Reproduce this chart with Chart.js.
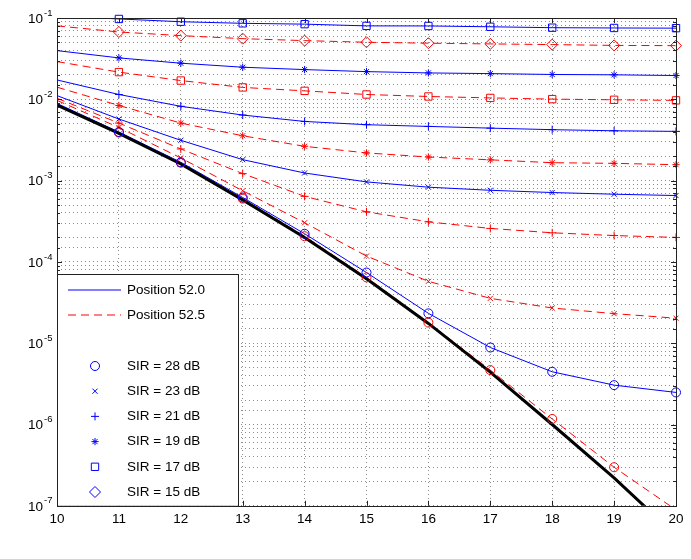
<!DOCTYPE html>
<html>
<head>
<meta charset="utf-8">
<title>BER vs SNR</title>
<script src="https://cdn.jsdelivr.net/npm/chart.js@4.4.0/dist/chart.umd.min.js"></script>
<style>
  html, body { margin: 0; padding: 0; background: #fff; }
  canvas { display: block; }
</style>
</head>
<body>
<canvas id="berChart" width="691" height="559"></canvas>
<script>
// --- DATOS ---

// Eje X (SNR)
const xValues = [10, 11, 12, 13, 14, 15, 16, 17, 18, 19, 20];

// Position 52.0 (azul, línea continua)
const pos520_sir28 = [0.0089, 0.00396, 0.00168, 0.00062, 0.000222, 7.4e-5, 2.33e-5, 8.85e-6, 4.45e-6, 3.05e-6, 2.48e-6];
const pos520_sir23 = [0.0111, 0.00572, 0.00313, 0.00181, 0.00124, 0.000964, 0.00083, 0.00076, 0.000713, 0.00068, 0.000655];
const pos520_sir21 = [0.0173, 0.01146, 0.0082, 0.0064, 0.00534, 0.00487, 0.00464, 0.00442, 0.00423, 0.0041, 0.00403];
const pos520_sir19 = [0.0397, 0.0323, 0.0278, 0.0248, 0.0232, 0.0219, 0.0211, 0.0207, 0.0202, 0.0200, 0.0196];
const pos520_sir17 = [0.106, 0.0973, 0.090, 0.086, 0.084, 0.080, 0.0798, 0.078, 0.076, 0.0754, 0.075];

// Position 52.5 (rojo, línea discontinua)
const pos525_sir28 = [0.0087, 0.0039, 0.00166, 0.0006, 0.000207, 6.45e-5, 1.79e-5, 4.67e-6, 1.17e-6, 2.98e-7, 8.9e-8];
const pos525_sir23 = [0.0097, 0.0045, 0.0019, 0.00075, 0.000303, 0.000118, 5.77e-5, 3.56e-5, 2.71e-5, 2.31e-5, 2.03e-5];
const pos525_sir21 = [0.0103, 0.0051, 0.00245, 0.00122, 0.00064, 0.000413, 0.000311, 0.000258, 0.000228, 0.000211, 0.0002];
const pos525_sir19 = [0.0141, 0.0084, 0.0051, 0.00356, 0.00264, 0.00219, 0.00195, 0.0018, 0.00166, 0.00163, 0.00157];
const pos525_sir17 = [0.0291, 0.0216, 0.017, 0.014, 0.0127, 0.01146, 0.01083, 0.0104, 0.01005, 0.00986, 0.0097];
const pos525_sir15 = [0.080, 0.0673, 0.0607, 0.0557, 0.0527, 0.0503, 0.049, 0.048, 0.0471, 0.046, 0.0457];

// Curva de referencia (negra, gruesa)
const reference = [0.0085, 0.0038, 0.0016, 0.00058, 0.0002, 6.2e-5, 1.75e-5, 4.4e-6, 1.0e-6, 2.2e-7, 4.3e-8];

// Etiquetas de la leyenda y de los ticks
const positionLabels = ['Position 52.0', 'Position 52.5'];
const sirLabels = ['SIR = 28 dB', 'SIR = 23 dB', 'SIR = 21 dB', 'SIR = 19 dB', 'SIR = 17 dB', 'SIR = 15 dB'];
const yExponents = [-7, -6, -5, -4, -3, -2, -1];

document.addEventListener('DOMContentLoaded', function() {

    const ctx = document.getElementById('berChart');
    const BLUE = '#0000ff';
    const RED = '#ff0000';
    const DASH = [8, 5];
    const FONT = '"Liberation Sans", Arial, Helvetica, sans-serif';
    const Y_MIN = 1e-7, Y_MAX = 1e-1;

    // Estilo de marcador por SIR (equivalentes a MATLAB: o x + * s d)
    const markers = {
        28: { style: 'circle', radius: 4.5 },
        23: { style: 'crossRot', radius: 3.6 },
        21: { style: 'cross', radius: 4 },
        19: { style: 'star', radius: 3.6 },
        17: { style: 'rect', radius: 5.2 },
        15: { style: 'rectRot', radius: 5.5 }
    };

    const toPoints = (values) => values.map((v, i) => ({ x: xValues[i], y: v }));

    const series = [
        { values: pos520_sir28, color: BLUE, dash: [], sir: 28 },
        { values: pos520_sir23, color: BLUE, dash: [], sir: 23 },
        { values: pos520_sir21, color: BLUE, dash: [], sir: 21 },
        { values: pos520_sir19, color: BLUE, dash: [], sir: 19 },
        { values: pos520_sir17, color: BLUE, dash: [], sir: 17 },
        { values: pos525_sir28, color: RED, dash: DASH, sir: 28 },
        { values: pos525_sir23, color: RED, dash: DASH, sir: 23 },
        { values: pos525_sir21, color: RED, dash: DASH, sir: 21 },
        { values: pos525_sir19, color: RED, dash: DASH, sir: 19 },
        { values: pos525_sir17, color: RED, dash: DASH, sir: 17 },
        { values: pos525_sir15, color: RED, dash: DASH, sir: 15 }
    ];

    const datasets = [];

    // Marcadores (sin recortar, desde x = 11, solo dentro del rango Y)
    series.forEach(s => {
        datasets.push({
            data: toPoints(s.values).filter(p => p.x > 10 && p.y >= Y_MIN && p.y <= Y_MAX),
            showLine: false,
            borderColor: s.color,
            backgroundColor: 'rgba(0,0,0,0)',
            pointStyle: markers[s.sir].style,
            pointRadius: markers[s.sir].radius,
            pointBorderWidth: 1,
            clip: false,
            order: 0
        });
    });

    // Curva negra de referencia
    datasets.push({
        data: toPoints(reference),
        borderColor: '#000',
        borderWidth: 3,
        pointRadius: 0,
        clip: 0,
        order: 1
    });

    // Líneas (recortadas al área del gráfico)
    series.forEach(s => {
        datasets.push({
            data: toPoints(s.values),
            borderColor: s.color,
            borderWidth: 1,
            borderDash: s.dash,
            pointRadius: 0,
            clip: 0,
            order: 2
        });
    });

    // Marco, ticks interiores, etiquetas 10^n y leyenda
    const decorations = {
        id: 'decorations',
        afterDraw(chart) {
            const c = chart.ctx;
            const a = chart.chartArea;
            const xs = chart.scales.x;
            const ys = chart.scales.y;
            c.save();

            // ticks hacia dentro
            c.strokeStyle = '#222';
            c.lineWidth = 1;
            c.beginPath();
            xs.ticks.forEach(t => {
                const px = Math.round(xs.getPixelForValue(t.value)) + 0.5;
                c.moveTo(px, a.top); c.lineTo(px, a.top + 5);
                c.moveTo(px, a.bottom); c.lineTo(px, a.bottom - 5);
            });
            ys.ticks.forEach(t => {
                const py = Math.round(ys.getPixelForValue(t.value)) + 0.5;
                const len = t.major ? 5 : 3;
                c.moveTo(a.left, py); c.lineTo(a.left + len, py);
                c.moveTo(a.right, py); c.lineTo(a.right - len, py);
            });
            c.stroke();

            // etiquetas del eje Y
            c.fillStyle = '#000';
            yExponents.forEach(e => {
                const py = ys.getPixelForValue(Math.pow(10, e));
                c.font = '13.5px ' + FONT;
                c.textAlign = 'right';
                c.textBaseline = 'middle';
                c.fillText('10', 43, py + 1);
                c.font = '9.5px ' + FONT;
                c.textAlign = 'left';
                c.fillText(String(e), 44, py - 5);
            });

            // leyenda
            const lx = a.left, ly = 274, lw = 181, lh = a.bottom - ly;
            c.fillStyle = '#fff';
            c.fillRect(lx, ly, lw, lh);
            c.strokeStyle = '#222';
            c.strokeRect(lx + 0.5, ly + 0.5, lw, lh);

            c.font = '13.5px ' + FONT;
            c.textAlign = 'left';
            c.textBaseline = 'middle';
            const posStyles = [{ color: BLUE, dash: [] }, { color: RED, dash: DASH }];
            positionLabels.forEach((label, i) => {
                const py = 290 + i * 25;
                c.strokeStyle = posStyles[i].color;
                c.lineWidth = 1;
                c.setLineDash(posStyles[i].dash);
                c.beginPath();
                c.moveTo(68, py); c.lineTo(121, py);
                c.stroke();
                c.setLineDash([]);
                c.fillStyle = '#000';
                c.fillText(label, 127, py);
            });

            const sirKeys = [28, 23, 21, 19, 17, 15];
            sirLabels.forEach((label, i) => {
                const py = 366 + i * 25.2;
                const m = markers[sirKeys[i]];
                c.strokeStyle = BLUE;
                c.fillStyle = 'rgba(0,0,0,0)';
                c.lineWidth = 1;
                Chart.helpers.drawPoint(c, { pointStyle: m.style, radius: m.radius, rotation: 0, borderWidth: 1 }, 95, py);
                c.fillStyle = '#000';
                c.fillText(label, 127, py);
            });

            // marco exterior
            c.strokeStyle = '#222';
            c.lineWidth = 1;
            c.strokeRect(Math.round(a.left) + 0.5, Math.round(a.top) + 0.5,
                         Math.round(a.right - a.left), Math.round(a.bottom - a.top));
            c.restore();
        }
    };

    new Chart(ctx, {
        type: 'line',
        data: { datasets: datasets },
        options: {
            responsive: false,
            animation: false,
            events: [],
            layout: { padding: { left: 57, right: 15, top: 18, bottom: 27 } },
            plugins: {
                legend: { display: false },
                tooltip: { enabled: false }
            },
            elements: { line: { tension: 0 } },
            scales: {
                x: {
                    type: 'linear',
                    min: 10,
                    max: 20,
                    ticks: {
                        stepSize: 1,
                        color: '#000',
                        padding: 5,
                        maxRotation: 0,
                        font: { family: FONT, size: 13.5 }
                    },
                    grid: { color: 'rgba(0,0,0,0.45)', drawTicks: false },
                    border: { display: false, dash: [1, 3] }
                },
                y: {
                    type: 'logarithmic',
                    min: Y_MIN,
                    max: Y_MAX,
                    ticks: { display: false },
                    grid: { color: 'rgba(0,0,0,0.45)', drawTicks: false },
                    border: { display: false, dash: [1, 3] }
                }
            }
        },
        plugins: [decorations]
    });
});
</script>
</body>
</html>
